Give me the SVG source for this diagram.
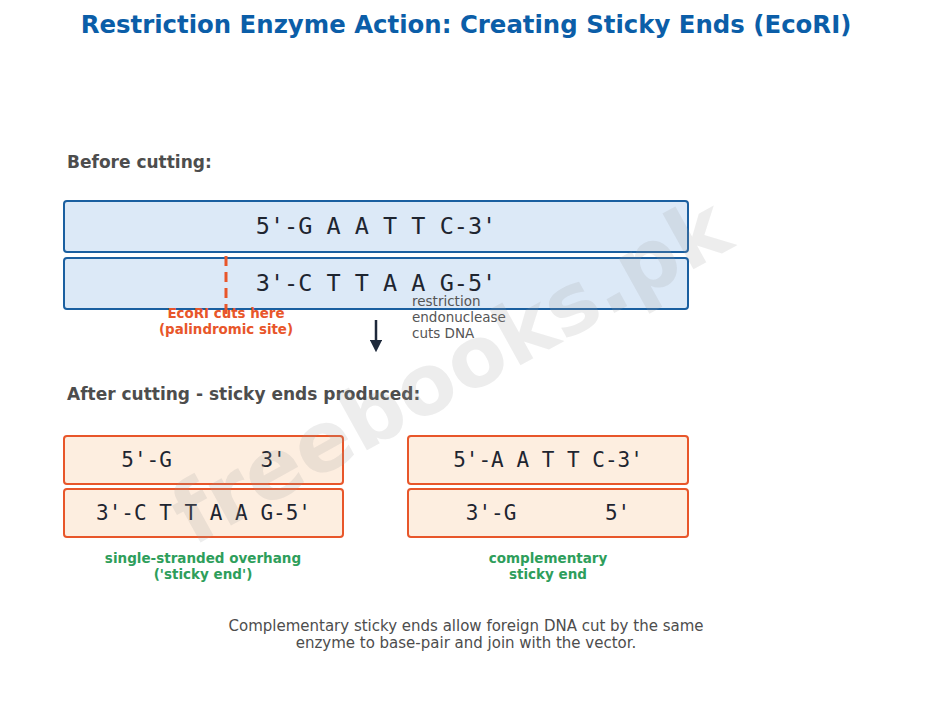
<svg xmlns="http://www.w3.org/2000/svg" width="932" height="717" viewBox="0 0 932 717">
<style>
.title{font-family:"DejaVu Sans",sans-serif;font-weight:bold;font-size:24.4px;fill:#0b5ea8}
.head{font-family:"DejaVu Sans",sans-serif;font-weight:bold;font-size:17px;fill:#4d4d4d}
.blue{fill:#dce9f7;stroke:#1a5fa0;stroke-width:2}
.orange{fill:#fdeee0;stroke:#e8562a;stroke-width:2}
.seqL{font-family:"DejaVu Sans Mono",monospace;font-size:23.5px;fill:#1e2530;text-anchor:middle}
.seqS{font-family:"DejaVu Sans Mono",monospace;font-size:21px;fill:#1e2530;text-anchor:middle}
.cut{font-family:"DejaVu Sans",sans-serif;font-weight:bold;font-size:13.4px;fill:#e8562a;text-anchor:middle}
.note{font-family:"DejaVu Sans",sans-serif;font-size:13.5px;fill:#555}
.green{font-family:"DejaVu Sans",sans-serif;font-weight:bold;font-size:13.5px;fill:#2e9e5b;text-anchor:middle}
.foot{font-family:"DejaVu Sans",sans-serif;font-size:15px;fill:#4d4d4d;text-anchor:middle}
</style>
<defs>
<marker id="ah" viewBox="0 0 10 10" refX="5" refY="5" markerWidth="5" markerHeight="5" orient="auto">
<path d="M0,0 L10,5 L0,10 z" fill="#1e293b"/>
</marker>
</defs>
<rect width="932" height="717" fill="#fff"/>
<text class="title" x="466" y="33" text-anchor="middle">Restriction Enzyme Action: Creating Sticky Ends (EcoRI)</text>
<text class="head" x="67" y="168">Before cutting:</text>
<g id="top-strand"><rect class="blue" x="64" y="201" width="624" height="51" rx="3"/><text class="seqL" x="376" y="234" xml:space="preserve">5'-G A A T T C-3'</text></g>
<g id="bottom-strand"><rect class="blue" x="64" y="258" width="624" height="51" rx="3"/><text class="seqL" x="376" y="291" xml:space="preserve">3'-C T T A A G-5'</text></g>
<g id="connectors">
<line x1="226" y1="256" x2="226" y2="316" stroke="#e8562a" stroke-width="3" stroke-dasharray="10,6"/>
<line x1="376" y1="320" x2="376" y2="346" stroke="#1e293b" stroke-width="2.5" marker-end="url(#ah)"/>
</g>
<g id="cut-label"><text class="cut" x="226" y="318">EcoRI cuts here</text><text class="cut" x="226" y="334">(palindromic site)</text></g>
<g id="enzyme-note"><text class="note" x="412" y="306">restriction</text><text class="note" x="412" y="322">endonuclease</text><text class="note" x="412" y="338">cuts DNA</text></g>
<text class="head" x="67" y="400">After cutting - sticky ends produced:</text>
<g id="left-top"><rect class="orange" x="64" y="436" width="279" height="48" rx="3"/><text class="seqS" x="203.5" y="467" xml:space="preserve">5'-G       3'</text></g>
<g id="left-bottom"><rect class="orange" x="64" y="489" width="279" height="48" rx="3"/><text class="seqS" x="203.5" y="520" xml:space="preserve">3'-C T T A A G-5'</text></g>
<g id="right-top"><rect class="orange" x="408" y="436" width="280" height="48" rx="3"/><text class="seqS" x="548" y="467" xml:space="preserve">5'-A A T T C-3'</text></g>
<g id="right-bottom"><rect class="orange" x="408" y="489" width="280" height="48" rx="3"/><text class="seqS" x="548" y="520" xml:space="preserve">3'-G       5'</text></g>
<g id="left-label"><text class="green" x="203" y="563">single-stranded overhang</text><text class="green" x="203" y="579">('sticky end')</text></g>
<g id="right-label"><text class="green" x="548" y="563">complementary</text><text class="green" x="548" y="579">sticky end</text></g>
<g id="footer"><text class="foot" x="466" y="631">Complementary sticky ends allow foreign DNA cut by the same</text><text class="foot" x="466" y="648">enzyme to base-pair and join with the vector.</text></g>
<text x="450" y="400" transform="rotate(-29 450 370)" text-anchor="middle" font-family="DejaVu Sans,sans-serif" font-weight="bold" font-size="84" fill="#9a9a9a" fill-opacity="0.18">freebooks.pk</text>
</svg>
